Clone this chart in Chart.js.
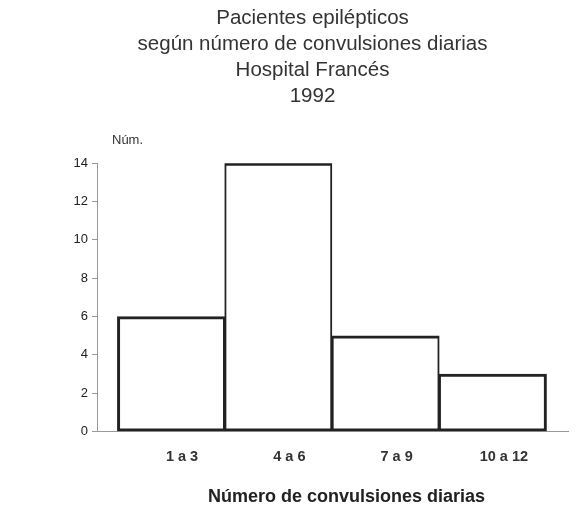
<!DOCTYPE html>
<html>
<head>
<meta charset="utf-8">
<script src="https://cdn.jsdelivr.net/npm/chart.js@4/dist/chart.umd.min.js"></script>
<style>
  html, body { margin: 0; padding: 0; background: #fff; }
  #wrap { width: 585px; height: 521px; }
</style>
</head>
<body>
<div id="wrap"><canvas id="c" width="585" height="521"></canvas></div>
<script>
const titleLines = ['Pacientes epilépticos', 'según número de convulsiones diarias', 'Hospital Francés', '1992'];
const categories = ['1 a 3', '4 a 6', '7 a 9', '10 a 12'];
const values = [6, 14, 5, 3];
const yTicks = [0, 2, 4, 6, 8, 10, 12, 14];
const yLabel = 'Núm.';
const xLabel = 'Número de convulsiones diarias';

const FONT = "'Liberation Sans', Arial, Helvetica, sans-serif";

const axisLabels = {
  id: 'axisLabels',
  afterDraw(chart) {
    const y = chart.scales.y;
    const x = chart.scales.x;
    const ctx = chart.ctx;
    ctx.save();
    ctx.font = '13px ' + FONT;
    ctx.fillStyle = '#333';
    ctx.textAlign = 'left';
    ctx.textBaseline = 'middle';
    ctx.fillText(yLabel, y.right + 15, y.top - 23);
    ctx.font = 'bold 18px ' + FONT;
    ctx.fillStyle = '#222';
    ctx.textAlign = 'center';
    ctx.fillText(xLabel, (x.left + x.right) / 2 + 14, x.bottom + 14);
    ctx.restore();
  }
};

new Chart(document.getElementById('c'), {
  type: 'bar',
  data: {
    datasets: [{
      data: categories.map((c, i) => ({ x: i + 1, y: values[i] })),
      backgroundColor: '#ffffff',
      borderColor: '#222222',
      borderWidth: (ctx) => ({
        top: 3,
        bottom: 3,
        left: ctx.dataIndex === 0 ? 3 : 2,
        right: ctx.dataIndex === categories.length - 1 ? 3 : 2
      }),
      borderSkipped: false,
      categoryPercentage: 1,
      barPercentage: 1
    }]
  },
  options: {
    responsive: false,
    animation: false,
    layout: { padding: { left: 57, right: 17, top: 0, bottom: 38 } },
    plugins: {
      legend: { display: false },
      tooltip: { enabled: false },
      title: {
        display: true,
        text: titleLines,
        color: '#333',
        font: { family: FONT, size: 20.5, weight: 'normal', lineHeight: 1.27 },
        padding: { top: 5, bottom: 54 }
      }
    },
    scales: {
      x: {
        type: 'linear',
        offset: false,
        min: 0.31,
        max: 4.7,
        afterBuildTicks: (s) => { s.ticks = categories.map((c, i) => ({ value: i + 1 })); },
        grid: { display: false, drawTicks: false, offset: false },
        border: { display: true, color: '#999', width: 1 },
        ticks: {
          callback: (v) => categories[Math.round(v) - 1],
          labelOffset: 11,
          padding: 17,
          color: '#333',
          font: { family: FONT, size: 14.5, weight: 'bold' },
          maxRotation: 0,
          autoSkip: false
        },
        title: { display: false, text: xLabel }
      },
      y: {
        min: 0,
        max: 14,
        afterBuildTicks: (s) => { s.ticks = yTicks.map(v => ({ value: v })); },
        afterFit: (s) => { s.width = 40; },
        grid: { display: true, drawOnChartArea: false, drawTicks: true, tickLength: 5, color: '#999' },
        border: { display: true, color: '#999', width: 1 },
        ticks: {
          padding: 4,
          color: '#222',
          font: { family: FONT, size: 13 }
        }
      }
    }
  },
  plugins: [axisLabels]
});
</script>
</body>
</html>
